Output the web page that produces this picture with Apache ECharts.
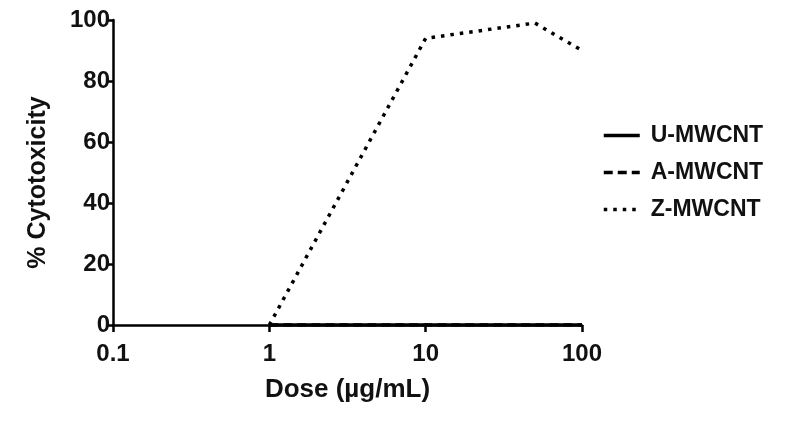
<!DOCTYPE html>
<html>
<head>
<meta charset="utf-8">
<script src="https://cdn.jsdelivr.net/npm/echarts@6/dist/echarts.min.js"></script>
<style>
  html, body { margin: 0; padding: 0; background: #fff; }
  #chart { width: 800px; height: 425px; }
</style>
</head>
<body>
<div id="chart"></div>
<script>
// doses in µg/mL
const doses = [1, 10, 50, 100]
const uMwcnt = [0, 0, 0, 0]
const aMwcnt = [0, 0, 0, 0]
const zMwcnt = [0, 94, 99, 90]
const xTicks = [0.1, 1, 10, 100]
const yTicks = [0, 20, 40, 60, 80, 100]

const font = 'Liberation Sans, Arial, sans-serif'
const pairs = vals => doses.map((d, i) => [d, vals[i]])

const chart = echarts.init(document.getElementById('chart'))
chart.setOption({
  backgroundColor: '#fff',
  animation: false,
  color: ['#000', '#000', '#000'],
  grid: { left: 113, right: 218, top: 20, bottom: 100 },
  legend: {
    orient: 'vertical',
    left: 597,
    top: 119,
    itemWidth: 36,
    itemHeight: 14,
    itemGap: 14,
    itemStyle: { opacity: 0 },
    lineStyle: { width: 3.5 },
    textStyle: { fontFamily: font, fontSize: 23, fontWeight: 'bold', color: '#111', padding: [0, 0, 0, 6] },
    data: ['U-MWCNT', 'A-MWCNT', 'Z-MWCNT']
  },
  xAxis: {
    type: 'log',
    logBase: 10,
    min: xTicks[0],
    max: xTicks[xTicks.length - 1],
    name: 'Dose (µg/mL)',
    nameLocation: 'middle',
    nameGap: 52,
    nameTextStyle: { fontFamily: font, fontSize: 26, fontWeight: 'bold', color: '#111' },
    axisLine: { onZero: false, lineStyle: { color: '#000', width: 2.5 } },
    axisTick: { length: 7, lineStyle: { width: 2.5 } },
    minorTick: { show: false },
    splitLine: { show: false },
    axisLabel: {
      margin: 17,
      fontFamily: font, fontSize: 24, fontWeight: 'bold', color: '#111',
      formatter: v => String(+v.toPrecision(3))
    }
  },
  yAxis: {
    type: 'value',
    min: yTicks[0],
    max: yTicks[yTicks.length - 1],
    interval: 20,
    name: '% Cytotoxicity',
    nameLocation: 'middle',
    nameGap: 62,
    nameTextStyle: { fontFamily: font, fontSize: 25, fontWeight: 'bold', color: '#111', padding: [0, 20, 0, 0] },
    axisLine: { show: true, lineStyle: { color: '#000', width: 2.5 } },
    axisTick: { show: true, length: 7, lineStyle: { width: 2.5 } },
    splitLine: { show: false },
    axisLabel: {
      margin: 3,
      fontFamily: font, fontSize: 24, fontWeight: 'bold', color: '#111'
    }
  },
  series: [
    {
      name: 'Z-MWCNT',
      type: 'line',
      data: pairs(zMwcnt),
      symbol: 'none',
      z: 3,
      lineStyle: { color: '#000', width: 3.5, type: [3.5, 6], cap: 'butt' }
    },
    {
      name: 'A-MWCNT',
      type: 'line',
      data: pairs(aMwcnt),
      symbol: 'none',
      z: 4,
      lineStyle: { color: '#000', width: 3.5, type: [9, 5] }
    },
    {
      name: 'U-MWCNT',
      type: 'line',
      data: pairs(uMwcnt),
      symbol: 'none',
      z: 5,
      lineStyle: { color: '#000', width: 3.5 }
    }
  ]
})
</script>
</body>
</html>
